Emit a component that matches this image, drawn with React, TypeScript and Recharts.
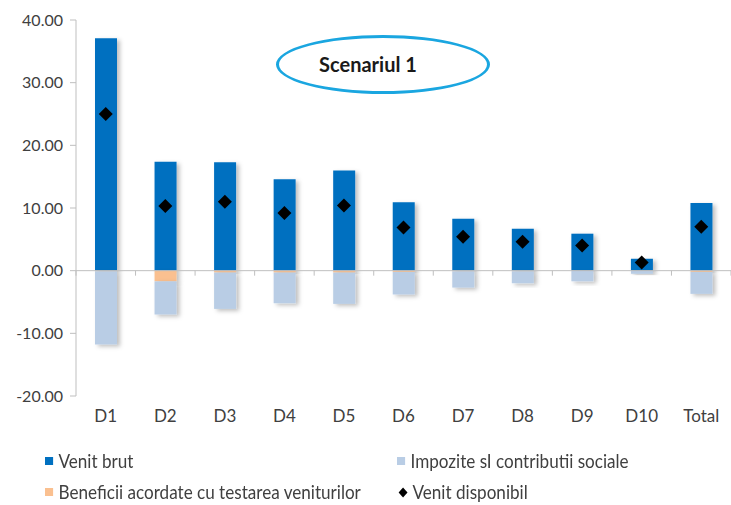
import React from "react"
import {
  ComposedChart,
  Bar,
  Line,
  XAxis,
  YAxis,
  ReferenceLine,
} from "recharts"

const categories = ["D1", "D2", "D3", "D4", "D5", "D6", "D7", "D8", "D9", "D10", "Total"]
const venitBrut = [37.1, 17.4, 17.3, 14.6, 16.0, 10.9, 8.3, 6.7, 5.9, 1.9, 10.8]
const beneficii = [-0.1, -1.7, -0.3, -0.3, -0.3, -0.2, -0.1, -0.1, -0.05, -0.05, -0.2]
const impozite = [-11.7, -5.3, -5.8, -4.9, -5.0, -3.6, -2.6, -1.9, -1.65, -0.45, -3.5]
const venitDisponibil = [25.0, 10.3, 11.0, 9.2, 10.4, 6.9, 5.4, 4.6, 4.0, 1.3, 7.0]
const yTicks = [-20, -10, 0, 10, 20, 30, 40]

const data = categories.map((name, i) => ({
  name,
  brut: venitBrut[i],
  beneficii: beneficii[i],
  impozite: impozite[i],
  disponibil: venitDisponibil[i],
}))

const FONT = "Lato, 'Open Sans', sans-serif"
const W = 731
const H = 436
const TOP = 20
const Y_W = 76
const X_H = 40
const PLOT_H = H - TOP - X_H
const ZERO_Y = TOP + (PLOT_H * 40) / 60
const HALF_BAND = (W - Y_W) / categories.length / 2

const BLUE = "#0070c0"
const LIGHT = "#b9cde5"
const ORANGE = "#fac090"
const TEXT = "#404040"

const Diamond = (props: any) => {
  const { cx, cy } = props
  if (cx == null || cy == null) return null
  const r = 7
  return (
    <polygon
      points={`${cx},${cy - r} ${cx + r},${cy} ${cx},${cy + r} ${cx - r},${cy}`}
      fill="#000"
    />
  )
}

const XTick = (props: any) => {
  const { x, payload } = props
  const labelY = TOP + PLOT_H + 26
  return (
    <g>
      <line x1={x + HALF_BAND} x2={x + HALF_BAND} y1={ZERO_Y} y2={ZERO_Y + 5} stroke="#bfbfbf" />
      {payload.index === 0 && (
        <line x1={x - HALF_BAND} x2={x - HALF_BAND} y1={ZERO_Y} y2={ZERO_Y + 5} stroke="#bfbfbf" />
      )}
      <text x={x} y={labelY} textAnchor="middle" fill={TEXT} fontSize={17} fontFamily={FONT}>
        {payload.value}
      </text>
    </g>
  )
}

const legendItems = [
  { label: "Venit brut", color: BLUE, left: 45, top: 461, shape: "square" },
  { label: "Impozite sI contributii sociale", color: LIGHT, left: 397, top: 461, shape: "square" },
  { label: "Beneficii acordate cu testarea veniturilor", color: ORANGE, left: 45, top: 492, shape: "square" },
  { label: "Venit disponibil", color: "#000", left: 399, top: 492, shape: "diamond" },
]

export default function App() {
  return (
    <div style={{ position: "absolute", left: 0, top: 0, width: W, height: 505, background: "#fff", fontFamily: FONT, overflow: "hidden" }}>
      <ComposedChart
        width={W}
        height={H}
        data={data}
        stackOffset="sign"
        barSize={22}
        margin={{ top: TOP, right: 0, left: 0, bottom: 0 }}
      >
        <defs>
          <filter id="shadow" x="-20%" y="-20%" width="160%" height="160%">
            <feDropShadow dx="3" dy="2" stdDeviation="2" floodColor="#000" floodOpacity="0.25" />
          </filter>
        </defs>
        <XAxis
          dataKey="name"
          height={X_H}
          axisLine={false}
          tickLine={false}
          tick={<XTick />}
          interval={0}
        />
        <YAxis
          width={Y_W}
          domain={[-20, 40]}
          ticks={yTicks}
          interval={0}
          tickFormatter={(v: number) => v.toFixed(2)}
          axisLine={{ stroke: "#bfbfbf" }}
          tickLine={{ stroke: "#bfbfbf" }}
          tickSize={6}
          tickMargin={7}
          tick={{ fill: TEXT, fontSize: 16, fontFamily: FONT }}
        />
        <Bar dataKey="brut" stackId="s" fill={BLUE} isAnimationActive={false} filter="url(#shadow)" />
        <Bar dataKey="beneficii" stackId="s" fill={ORANGE} isAnimationActive={false} filter="url(#shadow)" />
        <Bar dataKey="impozite" stackId="s" fill={LIGHT} isAnimationActive={false} filter="url(#shadow)" />
        <ReferenceLine y={0} stroke="#bfbfbf" />
        <Line
          dataKey="disponibil"
          stroke="none"
          dot={<Diamond />}
          activeDot={false}
          isAnimationActive={false}
        />
      </ComposedChart>
      <div
        style={{
          position: "absolute",
          left: 276,
          top: 35,
          width: 214,
          height: 59,
          boxSizing: "border-box",
          border: "3px solid #1aa6e0",
          borderRadius: "50%",
        }}
      />
      <div
        style={{
          position: "absolute",
          left: 268,
          top: 35,
          width: 200,
          height: 59,
          lineHeight: "59px",
          textAlign: "center",
          fontWeight: 700,
          fontSize: 20,
          color: "#1a1a1a",
        }}
      >
        Scenariul 1
      </div>
      {legendItems.map((it) => (
        <div
          key={it.label}
          style={{
            position: "absolute",
            left: it.left,
            top: it.top - 12,
            height: 24,
            lineHeight: "24px",
            display: "flex",
            alignItems: "center",
            fontSize: 19,
            color: TEXT,
            whiteSpace: "nowrap",
            transform: "scaleX(0.9)",
            transformOrigin: "left center",
          }}
        >
          {it.shape === "square" ? (
            <span style={{ display: "inline-block", width: 9, height: 8, background: it.color, marginRight: 6 }} />
          ) : (
            <span style={{ display: "inline-block", width: 7, height: 7, background: it.color, transform: "rotate(45deg)", marginLeft: 1, marginRight: 7 }} />
          )}
          <span>{it.label}</span>
        </div>
      ))}
    </div>
  )
}
